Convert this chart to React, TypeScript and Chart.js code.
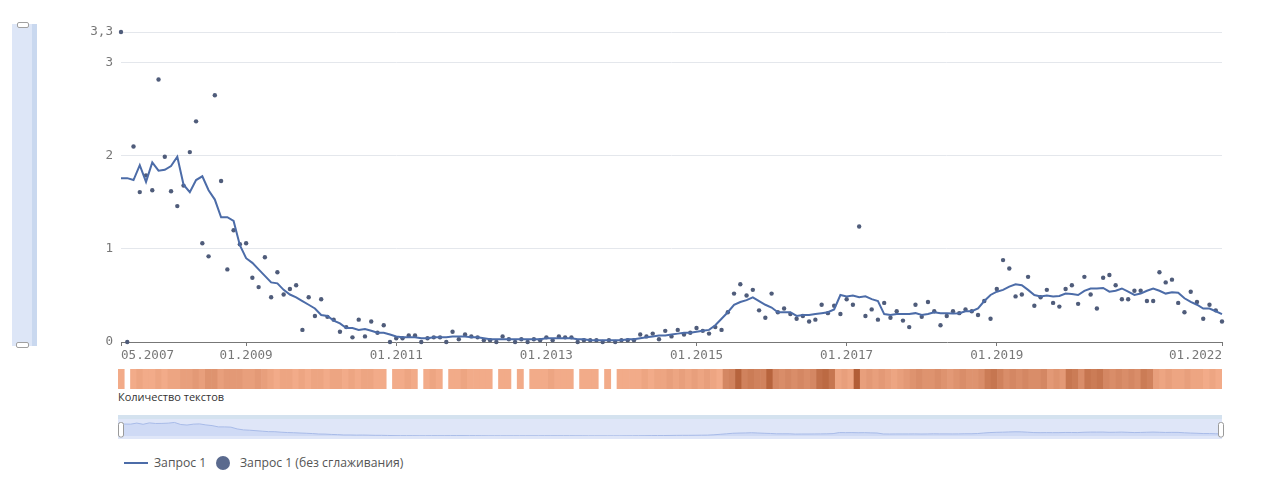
import React, { useEffect, useRef } from "react";
import { Chart, registerables } from "chart.js";

Chart.register(...registerables);

// Months from 05.2007 to 01.2022 (177 monthly points)
const startYear = 2007;
const startMonth = 5;
const monthCount = 177;
const months: string[] = [];
for (let i = 0; i < monthCount; i++) {
  const total = startMonth - 1 + i;
  const y = startYear + Math.floor(total / 12);
  const m = (total % 12) + 1;
  months.push((m < 10 ? "0" : "") + m + "." + y);
}

// Smoothed series "Запрос 1"
const smoothed: number[] = [
  1.76, 1.76, 1.74, 1.9, 1.72, 1.93, 1.84, 1.85, 1.89, 1.99,
  1.69, 1.61, 1.74, 1.78, 1.63, 1.53, 1.34, 1.34, 1.3, 1.04,
  0.9, 0.85, 0.78, 0.71, 0.64, 0.63, 0.56, 0.51, 0.48, 0.44,
  0.4, 0.36, 0.29, 0.28, 0.23, 0.2, 0.15, 0.15, 0.13, 0.14,
  0.12, 0.1, 0.1, 0.08, 0.06, 0.05, 0.05, 0.05, 0.04, 0.04,
  0.05, 0.05, 0.05, 0.06, 0.06, 0.06, 0.05, 0.05, 0.04, 0.03,
  0.03, 0.03, 0.03, 0.03, 0.03, 0.03, 0.03, 0.03, 0.04, 0.04,
  0.04, 0.04, 0.04, 0.03, 0.03, 0.02, 0.02, 0.02, 0.02, 0.02,
  0.02, 0.03, 0.03, 0.04, 0.05, 0.06, 0.07, 0.07, 0.08, 0.09,
  0.1, 0.1, 0.11, 0.12, 0.13, 0.18, 0.25, 0.32, 0.4, 0.43,
  0.45, 0.48, 0.44, 0.4, 0.37, 0.32, 0.32, 0.32, 0.28, 0.29,
  0.29, 0.3, 0.31, 0.32, 0.35, 0.505, 0.49, 0.5, 0.48, 0.49,
  0.46, 0.44, 0.3, 0.29, 0.3, 0.3, 0.3, 0.31, 0.29, 0.3,
  0.32, 0.31, 0.31, 0.305, 0.31, 0.33, 0.33, 0.36, 0.44, 0.505,
  0.54, 0.56, 0.595, 0.62, 0.61, 0.56, 0.505, 0.49, 0.5, 0.49,
  0.495, 0.52, 0.515, 0.505, 0.55, 0.575, 0.575, 0.58, 0.54, 0.55,
  0.575, 0.54, 0.505, 0.52, 0.55, 0.575, 0.55, 0.52, 0.535, 0.53,
  0.47, 0.43, 0.4, 0.36, 0.36, 0.33, 0.3,
];

// Raw series "Запрос 1 (без сглаживания)"
const raw: number[] = [
  3.33, 0, 2.1, 1.61, 1.79, 1.63, 2.82, 1.99, 1.62, 1.46,
  1.68, 2.04, 2.37, 1.06, 0.92, 2.65, 1.73, 0.78, 1.2, 1.05,
  1.06, 0.69, 0.59, 0.91, 0.48, 0.75, 0.51, 0.57, 0.61, 0.13,
  0.48, 0.28, 0.46, 0.27, 0.24, 0.11, 0.16, 0.05, 0.24, 0.06,
  0.22, 0.1, 0.18, 0, 0.04, 0.04, 0.07, 0.07, 0, 0.04,
  0.05, 0.05, 0, 0.11, 0.03, 0.08, 0.06, 0.05, 0.02, 0.02,
  0, 0.06, 0.03, 0, 0.03, 0, 0.03, 0.02, 0.05, 0.02,
  0.06, 0.05, 0.05, 0, 0.02, 0.02, 0.02, 0, 0.02, 0,
  0.02, 0.02, 0.02, 0.08, 0.06, 0.09, 0.03, 0.12, 0.06, 0.13,
  0.08, 0.1, 0.15, 0.12, 0.09, 0.16, 0.13, 0.32, 0.52, 0.62,
  0.5, 0.56, 0.34, 0.26, 0.52, 0.32, 0.36, 0.3, 0.25, 0.28,
  0.22, 0.24, 0.4, 0.31, 0.39, 0.3, 0.46, 0.4, 1.24, 0.28,
  0.35, 0.24, 0.42, 0.26, 0.33, 0.23, 0.16, 0.4, 0.27, 0.43,
  0.33, 0.18, 0.28, 0.33, 0.31, 0.35, 0.33, 0.29, 0.44, 0.25,
  0.57, 0.88, 0.79, 0.49, 0.51, 0.7, 0.39, 0.48, 0.56, 0.42,
  0.38, 0.57, 0.61, 0.41, 0.7, 0.51, 0.36, 0.69, 0.72, 0.61,
  0.46, 0.46, 0.55, 0.55, 0.44, 0.44, 0.75, 0.64, 0.67, 0.42,
  0.32, 0.54, 0.43, 0.25, 0.4, 0.34, 0.22,
];

// "Количество текстов" per month (0 = no texts)
const textCounts: number[] = [
  5, 0, 5, 6, 5, 5, 6, 5, 6, 6,
  7, 7, 8, 7, 9, 9, 7, 8, 8, 8,
  7, 7, 8, 7, 6, 5, 6, 6, 5, 6,
  5, 6, 6, 5, 6, 6, 5, 6, 5, 6,
  6, 5, 5, 0, 5, 5, 6, 5, 0, 5,
  6, 5, 0, 5, 5, 6, 5, 5, 5, 5,
  0, 5, 5, 0, 5, 0, 5, 5, 5, 6,
  5, 5, 5, 0, 5, 5, 5, 0, 5, 0,
  5, 5, 5, 5, 6, 5, 6, 6, 7, 6,
  7, 6, 7, 6, 7, 6, 5, 11, 12, 17,
  12, 13, 12, 12, 17, 11, 10, 11, 10, 11,
  10, 11, 15, 16, 14, 6, 7, 6, 18, 7,
  8, 7, 8, 7, 6, 7, 8, 9, 10, 9,
  9, 10, 9, 8, 9, 10, 9, 9, 10, 13,
  14, 12, 10, 11, 10, 11, 10, 10, 11, 8,
  9, 8, 14, 13, 10, 14, 13, 14, 11, 10,
  11, 10, 11, 10, 13, 12, 7, 6, 7, 6,
  6, 7, 6, 6, 5, 6, 5,
];

const xTickIndex: number[] = [0, 20, 44, 68, 92, 116, 140, 176];
const xTickLabels: string[] = ["05.2007", "01.2009", "01.2011", "01.2013", "01.2015", "01.2017", "01.2019", "01.2022"];
const yTickValues: number[] = [0, 1, 2, 3, 3.33];
const yTickLabels: string[] = ["0", "1", "2", "3", "3,3"];

const seriesName = "Запрос 1";
const rawSeriesName = "Запрос 1 (без сглаживания)";
const heatTitle = "Количество текстов";

const LINE_COLOR = "#4c6ca8";
const DOT_COLOR = "#4f5c7a";
const MONO = '"DejaVu Sans Mono", monospace';
const SANS = '"Open Sans", "Noto Sans", sans-serif';

function heatColor(c: number): string {
  if (c <= 0) return "rgba(0,0,0,0)";
  const t = Math.max(0, Math.min(1, (c - 4) / 16));
  const a = [247, 177, 143];
  const b = [168, 82, 42];
  const r = Math.round(a[0] + (b[0] - a[0]) * t);
  const g = Math.round(a[1] + (b[1] - a[1]) * t);
  const bl = Math.round(a[2] + (b[2] - a[2]) * t);
  return `rgb(${r},${g},${bl})`;
}

export default function App() {
  const mainRef = useRef<HTMLCanvasElement | null>(null);
  const heatRef = useRef<HTMLCanvasElement | null>(null);
  const navRef = useRef<HTMLCanvasElement | null>(null);

  useEffect(() => {
    const charts: Chart[] = [];
    if (mainRef.current) {
      charts.push(
        new Chart(mainRef.current, {
          type: "line",
          data: {
            datasets: [
              {
                label: seriesName,
                data: smoothed.map((v, i) => ({ x: i, y: v })),
                borderColor: LINE_COLOR,
                borderWidth: 2,
                pointRadius: 0,
                tension: 0,
                clip: false,
                order: 1,
              } as any,
              {
                label: rawSeriesName,
                data: raw.map((v, i) => ({ x: i, y: v })),
                showLine: false,
                pointRadius: 2.2,
                pointBorderWidth: 0,
                pointBackgroundColor: DOT_COLOR,
                backgroundColor: DOT_COLOR,
                borderColor: DOT_COLOR,
                clip: false,
                order: 2,
              } as any,
            ],
          },
          options: {
            animation: false,
            responsive: false,
            maintainAspectRatio: false,
            layout: { padding: { top: 32, right: 58, left: 0, bottom: 0 } },
            plugins: { legend: { display: false }, tooltip: { enabled: false } },
            scales: {
              x: {
                type: "linear",
                min: 0,
                max: monthCount - 1,
                afterBuildTicks: (s: any) => {
                  s.ticks = xTickIndex.map((v) => ({ value: v }));
                },
                afterFit: (s: any) => {
                  s.height = 30;
                },
                ticks: {
                  autoSkip: false,
                  maxRotation: 0,
                  align: "inner",
                  padding: 2,
                  color: "#777",
                  font: { family: MONO, size: 12.6 },
                  callback: (v: any) => {
                    const i = xTickIndex.indexOf(Number(v));
                    return i >= 0 ? xTickLabels[i] : "";
                  },
                },
                grid: { drawOnChartArea: false, drawTicks: true, tickLength: 4, color: "#777" },
                border: { display: true, color: "#777" },
              },
              y: {
                type: "linear",
                min: 0,
                max: 3.33,
                afterBuildTicks: (s: any) => {
                  s.ticks = yTickValues.map((v) => ({ value: v }));
                },
                afterFit: (s: any) => {
                  s.width = 121;
                },
                ticks: {
                  padding: 8,
                  color: "#777",
                  font: { family: MONO, size: 12.6 },
                  callback: (v: any) => {
                    const i = yTickValues.indexOf(Number(v));
                    return i >= 0 ? yTickLabels[i] : "";
                  },
                },
                grid: {
                  drawTicks: false,
                  color: (c: any) => (c.tick && c.tick.value === 0 ? "rgba(0,0,0,0)" : "#e4e7ec"),
                },
                border: { display: false },
              },
            },
          },
        } as any)
      );
    }
    if (heatRef.current) {
      charts.push(
        new Chart(heatRef.current, {
          type: "bar",
          data: {
            labels: months,
            datasets: [
              {
                label: heatTitle,
                data: textCounts.map((c) => (c > 0 ? 1 : null)),
                backgroundColor: textCounts.map(heatColor),
                borderWidth: 0,
                barPercentage: 1,
                categoryPercentage: 1,
              } as any,
            ],
          },
          options: {
            animation: false,
            responsive: false,
            maintainAspectRatio: false,
            layout: { padding: 0 },
            plugins: { legend: { display: false }, tooltip: { enabled: false } },
            scales: {
              x: { display: false },
              y: { display: false, min: 0, max: 1 },
            },
          },
        } as any)
      );
    }
    if (navRef.current) {
      const navBg = {
        id: "navBg",
        beforeDraw(chart: any) {
          const { ctx, chartArea } = chart;
          ctx.save();
          ctx.fillStyle = "#d4e2ef";
          ctx.fillRect(chartArea.left, chartArea.top - 4, chartArea.right - chartArea.left, 4);
          ctx.fillStyle = "#dfe6f8";
          ctx.fillRect(chartArea.left, chartArea.top, chartArea.right - chartArea.left, chartArea.bottom - chartArea.top + 3);
          ctx.restore();
        },
        afterDraw(chart: any) {
          const { ctx, chartArea } = chart;
          ctx.save();
          const drawHandle = (x: number) => {
            ctx.beginPath();
            (ctx as any).roundRect(x, chartArea.top + 3.5, 5, 14.5, 2);
            ctx.fillStyle = "#ffffff";
            ctx.fill();
            ctx.strokeStyle = "#9a9a9a";
            ctx.lineWidth = 1;
            ctx.stroke();
          };
          drawHandle(chartArea.left + 0.5);
          drawHandle(chartArea.right - 3.5);
          ctx.restore();
        },
      };
      charts.push(
        new Chart(navRef.current, {
          type: "line",
          data: {
            labels: months,
            datasets: [
              {
                data: smoothed,
                borderColor: "#a8bbe8",
                borderWidth: 1,
                pointRadius: 0,
                tension: 0,
                fill: "start",
                backgroundColor: "rgba(178,196,240,0.35)",
              } as any,
            ],
          },
          options: {
            animation: false,
            responsive: false,
            maintainAspectRatio: false,
            layout: { padding: { left: 6, right: 8, top: 7, bottom: 6 } },
            plugins: { legend: { display: false }, tooltip: { enabled: false } },
            scales: {
              x: { display: false, offset: false },
              y: { display: false, min: 0, max: 2.5 },
            },
          },
          plugins: [navBg],
        } as any)
      );
    }
    return () => {
      charts.forEach((c) => c.destroy());
    };
  }, []);

  const abs = (s: React.CSSProperties): React.CSSProperties => ({ position: "absolute", ...s });

  return (
    <div style={abs({ left: 0, top: 0, width: 1280, height: 484, background: "#fff", overflow: "hidden" })}>
      {/* vertical slider */}
      <div style={abs({ left: 12, top: 24, width: 20, height: 322, background: "#dde6f7" })} />
      <div style={abs({ left: 32, top: 24, width: 5, height: 322, background: "#c9d8ef" })} />
      <div style={abs({ left: 17, top: 22, width: 10, height: 4, background: "#fff", border: "1px solid #a0a0a0", borderRadius: 2 })} />
      <div style={abs({ left: 16, top: 342, width: 11, height: 4, background: "#fff", border: "1px solid #a0a0a0", borderRadius: 2 })} />

      <canvas ref={mainRef} width={1280} height={372} style={abs({ left: 0, top: 0, width: 1280, height: 372 })} />
      <canvas ref={heatRef} width={1104} height={20} style={abs({ left: 118, top: 369, width: 1104, height: 20 })} />
      <div style={abs({ left: 118, top: 389, fontFamily: SANS, fontSize: 11, lineHeight: "16px", color: "#333", whiteSpace: "nowrap" })}>
        {heatTitle}
      </div>
      <canvas ref={navRef} width={1118} height={30} style={abs({ left: 112, top: 412, width: 1118, height: 30 })} />

      {/* legend */}
      <div style={abs({ left: 124, top: 462, width: 24, height: 2, background: LINE_COLOR })} />
      <div style={abs({ left: 154, top: 454, fontFamily: SANS, fontSize: 12.2, lineHeight: "18px", color: "#555", whiteSpace: "nowrap" })}>
        {seriesName}
      </div>
      <div style={abs({ left: 216, top: 456, width: 14, height: 14, borderRadius: "50%", background: "#5a6a8e" })} />
      <div style={abs({ left: 240, top: 454, fontFamily: SANS, fontSize: 12.2, lineHeight: "18px", color: "#555", whiteSpace: "nowrap" })}>
        {rawSeriesName}
      </div>
    </div>
  );
}
